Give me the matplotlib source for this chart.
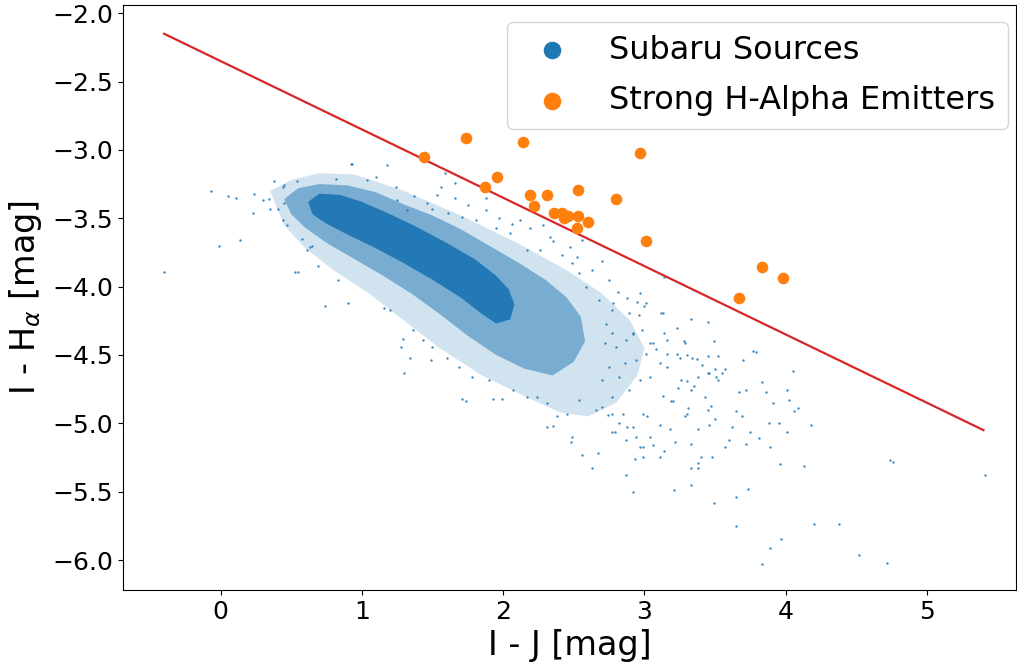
import numpy as np
import matplotlib
matplotlib.use("Agg")
import matplotlib.pyplot as plt

# colour-colour diagram: I - J vs I - H-alpha

# dense parts of the Subaru cloud, outlines (I-J, I-Ha)
core_x = [0.62, 0.70, 0.85, 1.00, 1.20, 1.40, 1.60, 1.80, 1.95, 2.04, 2.08, 2.05, 1.95,
          1.85, 1.70, 1.50, 1.30, 1.10, 0.90, 0.75, 0.65]
core_y = [-3.38, -3.32, -3.33, -3.38, -3.47, -3.57, -3.68, -3.80, -3.92, -4.02, -4.13, -4.24, -4.27,
          -4.20, -4.08, -3.95, -3.83, -3.72, -3.62, -3.54, -3.47]

mid_x = [0.45, 0.55, 0.70, 0.90, 1.10, 1.30, 1.50, 1.70, 1.90, 2.10, 2.30, 2.45, 2.55,
         2.58, 2.50, 2.35, 2.15, 1.95, 1.75, 1.55, 1.35, 1.15, 0.95, 0.75, 0.60, 0.50]
mid_y = [-3.36, -3.28, -3.25, -3.26, -3.31, -3.40, -3.48, -3.58, -3.70, -3.82, -3.95, -4.08, -4.22,
         -4.40, -4.55, -4.65, -4.60, -4.50, -4.36, -4.20, -4.05, -3.92, -3.80, -3.68, -3.57, -3.47]

halo_x = [0.35, 0.50, 0.70, 0.95, 1.30, 1.70, 2.10, 2.45, 2.70, 2.90, 3.00, 2.95,
          2.80, 2.60, 2.40, 2.15, 1.85, 1.55, 1.30, 1.05, 0.80, 0.60, 0.45]
halo_y = [-3.30, -3.22, -3.17, -3.18, -3.30, -3.48, -3.68, -3.88, -4.05, -4.25, -4.45, -4.65,
          -4.85, -4.95, -4.92, -4.80, -4.65, -4.45, -4.25, -4.05, -3.88, -3.72, -3.55]

# individual Subaru sources outside the dense parts
sparse_pts = [
    (3.33, -4.24), (3.45, -4.26), (3.23, -4.30), (3.49, -4.40), (3.77, -4.47), (3.79, -4.48),
    (3.70, -4.54), (4.05, -4.62), (3.83, -4.70), (3.67, -4.77), (3.72, -4.76), (3.86, -4.77),
    (4.01, -4.76), (4.02, -4.83), (3.91, -4.85), (4.09, -4.89), (4.06, -4.91), (3.65, -4.91),
    (3.69, -4.95), (4.18, -5.01), (3.88, -5.00), (3.95, -5.00), (4.01, -5.06), (3.75, -5.06),
    (3.62, -5.03), (3.81, -5.11), (3.60, -5.12), (3.72, -5.15), (3.89, -5.17), (3.57, -5.17),
    (4.74, -5.27), (3.96, -5.30), (4.13, -5.31), (3.73, -5.48), (3.65, -5.54), (3.49, -5.58),
    (4.20, -5.74), (3.65, -5.75), (3.97, -5.85), (3.89, -5.91), (4.52, -5.96), (4.72, -6.02),
    (3.83, -6.03), (3.33, -5.45), (3.21, -5.49), (3.38, -5.33), (3.40, -5.25), (3.48, -5.25),
    (3.33, -5.33), (3.38, -5.29), (3.22, -5.14), (3.33, -5.15), (3.38, -5.04), (3.46, -5.01),
    (3.50, -4.97), (3.18, -5.04), (3.11, -5.01), (3.14, -5.20), (3.11, -5.25), (2.99, -5.25),
    (2.93, -5.26), (2.87, -5.38), (2.92, -5.50), (3.06, -5.16), (2.97, -5.17), (3.30, -4.93),
    (3.29, -4.95), (3.45, -4.90), (3.47, -4.87), (3.31, -4.89), (3.43, -4.81), (3.20, -4.84),
    (3.13, -4.80), (3.33, -4.76), (3.24, -4.74), (3.35, -4.73), (3.26, -4.68), (3.30, -4.69),
    (3.38, -4.66), (3.52, -4.68), (3.51, -4.66), (3.45, -4.63), (3.46, -4.63), (3.55, -4.63),
    (3.57, -4.60), (3.50, -4.60), (3.37, -4.53), (3.41, -4.57), (3.45, -4.51), (3.52, -4.51),
    (3.29, -4.41), (3.28, -4.40), (3.23, -4.49), (3.30, -4.50), (3.13, -4.19), (3.00, -4.14),
    (2.95, -4.11), (2.78, -4.12), (2.96, -4.21), (3.14, -4.34), (3.25, -4.52), (3.19, -4.84),
    (2.73, -4.27), (2.77, -4.34), (2.72, -4.41), (2.80, -4.44), (2.87, -4.39), (2.92, -4.35),
    (2.98, -4.32), (3.04, -4.41), (3.08, -4.46), (3.16, -4.49), (3.01, -4.49), (2.94, -4.54),
    (2.86, -4.56), (2.75, -4.59), (2.70, -4.68), (2.82, -4.66), (2.97, -4.68), (3.04, -4.66),
    (3.11, -4.56), (3.16, -4.59), (2.89, -4.76), (2.77, -4.81), (2.70, -4.88), (2.85, -4.93),
    (2.99, -4.93), (3.02, -4.95), (2.92, -5.03), (2.79, -5.06), (2.94, -5.10), (3.04, -5.10),
    (2.99, -5.17), (2.74, -4.94), (4.76, -5.28), (5.41, -5.38), (4.38, -5.74),
    (-0.07, -3.30), (0.05, -3.34), (0.11, -3.35), (0.24, -3.32), (0.23, -3.46), (0.30, -3.37),
    (0.34, -3.36), (0.38, -3.23), (0.54, -3.23), (0.44, -3.27), (0.45, -3.26), (0.14, -3.66),
    (-0.01, -3.70), (-0.40, -3.89), (0.53, -3.89), (0.55, -3.89), (0.74, -4.14), (0.90, -4.12),
    (0.69, -3.85), (0.83, -3.95), (0.82, -3.21), (0.92, -3.10), (0.35, -3.43), (0.41, -3.43),
    (0.44, -3.51), (0.47, -3.55), (0.58, -3.65), (0.61, -3.73), (0.63, -3.71), (0.65, -3.70),
    (0.45, -3.39), (0.93, -3.10), (1.18, -3.11), (1.10, -3.20), (1.04, -3.22), (1.24, -3.27),
    (1.59, -3.17), (1.56, -3.27), (1.66, -3.24), (1.53, -3.33), (1.66, -3.35), (1.75, -3.40),
    (1.88, -3.35), (1.37, -3.34), (1.46, -3.39), (1.50, -3.43), (1.61, -3.46), (1.71, -3.49),
    (1.81, -3.51), (1.88, -3.44), (1.97, -3.50), (2.06, -3.54), (2.12, -3.51), (2.19, -3.57),
    (2.28, -3.55), (2.33, -3.64), (2.05, -3.61), (1.95, -3.57), (2.35, -3.67), (2.47, -3.71),
    (2.52, -3.78), (2.42, -3.77), (2.56, -3.66), (2.26, -3.73), (2.17, -3.73), (1.25, -3.37),
    (1.32, -3.44), (2.75, -3.95), (2.81, -4.04), (2.88, -4.08), (2.97, -4.05), (3.01, -4.12),
    (3.12, -4.19), (3.14, -3.93), (2.89, -4.19), (2.77, -4.17), (2.68, -4.10), (2.59, -4.00),
    (2.54, -3.90), (2.63, -3.88), (2.70, -3.81), (2.49, -3.83), (3.34, -4.52), (3.06, -4.41),
    (3.16, -4.39), (2.92, -4.34), (1.30, -4.63), (1.71, -4.82), (1.74, -4.84), (1.93, -4.82),
    (1.99, -4.82), (2.31, -5.03), (2.48, -5.14), (2.49, -5.10), (2.56, -5.23), (2.67, -5.22),
    (2.63, -5.33), (1.34, -4.52), (1.49, -4.54), (1.28, -4.44), (1.29, -4.38), (1.20, -4.17),
    (1.16, -4.16), (1.36, -4.32), (1.43, -4.39), (1.50, -4.44), (1.60, -4.52), (1.69, -4.59),
    (1.78, -4.66), (1.90, -4.68), (2.07, -4.76), (2.17, -4.81), (2.31, -4.85), (2.38, -4.95),
    (2.45, -4.93), (2.54, -4.83), (2.66, -4.90), (2.77, -4.93), (2.82, -5.00), (2.88, -5.03),
    (2.77, -5.06), (2.87, -5.12), (2.35, -5.02), (2.24, -4.81),
]

# strong H-alpha emitters
ha_x = [1.44, 1.74, 2.14, 2.97, 1.87, 1.96, 2.19, 2.31, 2.53, 2.22, 2.36,
        2.42, 2.43, 2.46, 2.53, 2.60, 2.52, 2.80, 3.01, 3.83, 3.98, 3.67]
ha_y = [-3.05, -2.91, -2.94, -3.02, -3.27, -3.20, -3.33, -3.33, -3.29, -3.41, -3.46,
        -3.46, -3.50, -3.48, -3.48, -3.53, -3.57, -3.36, -3.67, -3.86, -3.94, -4.08]

# selection line
line_x = [-0.40, 5.40]
line_y = [-2.15, -5.05]

blue = '#1f77b4'
orange = '#ff7f0e'

fig = plt.figure(figsize=(10.17, 6.66), dpi=100)
ax = fig.add_axes([0.121, 0.114, 0.878, 0.8785])

ax.fill(halo_x, halo_y, color=blue, alpha=0.2, lw=0, zorder=1)
ax.fill(mid_x, mid_y, color=blue, alpha=0.5, lw=0, zorder=1)
ax.fill(core_x, core_y, color=blue, alpha=0.95, lw=0, zorder=1)

sp = np.array(sparse_pts)
ax.scatter(sp[:, 0], sp[:, 1], s=3, color=blue, alpha=0.85, lw=0,
           label='Subaru Sources', zorder=2)
ax.scatter(ha_x, ha_y, s=70, color=orange, lw=0,
           label='Strong H-Alpha Emitters', zorder=4)
ax.plot(line_x, line_y, color='#d62728', lw=1.6, zorder=3)

ax.set_xlim(-0.69, 5.63)
ax.set_ylim(-6.22, -1.94)
ax.set_xticks([0, 1, 2, 3, 4, 5])
ax.set_yticks([-6.0, -5.5, -5.0, -4.5, -4.0, -3.5, -3.0, -2.5, -2.0])
ax.tick_params(labelsize=18)
ax.set_xlabel('I - J [mag]', fontsize=24, labelpad=4)
ax.set_ylabel(r'I - H$_{\alpha}$ [mag]', fontsize=24, labelpad=6)

leg = ax.legend(loc='upper right', fontsize=23, handletextpad=0.8, labelspacing=0.6,
                borderpad=0.4, borderaxespad=0, bbox_to_anchor=(0.991, 0.971))
for h in leg.legend_handles:
    h.set_sizes([160])
    h.set_alpha(1)

fig.savefig('out.png', dpi=100)
